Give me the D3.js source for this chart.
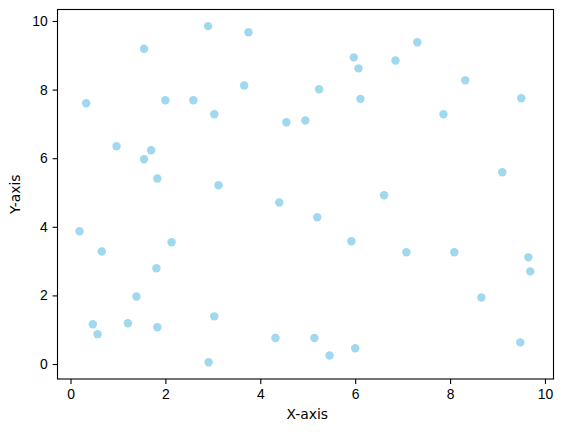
<!DOCTYPE html>
<html>
<head>
<meta charset="utf-8">
<script src="https://cdn.jsdelivr.net/npm/d3@7"></script>
<style>
  body { margin: 0; background: #fff; }
  svg { display: block; font-family: "DejaVu Sans", sans-serif; }
  .axis text { font-size: 13.9px; fill: #000; }
  .axis path, .axis line { stroke: #000; stroke-width: 1.1; }
</style>
</head>
<body>
<div id="chart"></div>
<script>
// 散佈點資料 (讀自圖片)
const xValues = [
  1.55, 0.33, 2.00, 2.59, 0.97, 1.70, 1.55, 1.83,
  2.90, 3.75, 5.97, 6.07, 3.66, 5.24, 6.11, 3.03, 4.55, 4.95, 3.12,
  7.31, 6.85, 8.32, 9.50, 7.86, 9.10, 6.61,
  0.19, 0.66, 2.13, 1.81, 1.39, 0.47, 0.57, 1.21, 1.83,
  4.40, 5.20, 5.92, 3.03, 2.91, 4.32, 5.14, 5.46, 6.00,
  7.08, 8.09, 9.65, 9.69, 8.66, 9.48
];
const yValues = [
  9.19, 7.60, 7.69, 7.69, 6.35, 6.23, 5.97, 5.41,
  9.85, 9.67, 8.94, 8.62, 8.12, 8.01, 7.73, 7.28, 7.05, 7.10, 5.21,
  9.38, 8.85, 8.27, 7.75, 7.28, 5.59, 4.92,
  3.87, 3.28, 3.55, 2.79, 1.97, 1.16, 0.87, 1.19, 1.07,
  4.71, 4.28, 3.58, 1.39, 0.05, 0.76, 0.76, 0.25, 0.46,
  3.26, 3.26, 3.11, 2.70, 1.94, 0.63
];
const xTicks = [0, 2, 4, 6, 8, 10];
const yTicks = [0, 2, 4, 6, 8, 10];

const points = xValues.map((x, i) => ({ x: x, y: yValues[i] }));

//畫布尺寸
const svg_width = 563;
const svg_height = 432;
const margin = { top: 9.5, right: 9.5, bottom: 53, left: 57.5 };
const width = svg_width - margin.left - margin.right;
const height = svg_height - margin.top - margin.bottom;

const svg = d3.select('#chart').append('svg')
  .attr('width', svg_width).attr('height', svg_height);
const g = svg.append('g')
  .attr('transform', `translate(${margin.left},${margin.top})`);

const X_scale = d3.scaleLinear([-0.274, 10.18], [0, width]);
const Y_scale = d3.scaleLinear([-0.437, 10.335], [height, 0]);

//點
g.append('g').attr('class', 'points')
  .selectAll('circle').data(points).join('circle')
  .attr('cx', d => X_scale(d.x))
  .attr('cy', d => Y_scale(d.y))
  .attr('r', 4.2)
  .style('fill', 'skyblue')
  .style('fill-opacity', 0.8);

//座標軸
const xAxis = d3.axisBottom(X_scale).tickValues(xTicks).tickSizeInner(4.9).tickSizeOuter(0).tickPadding(4.9);
const yAxis = d3.axisLeft(Y_scale).tickValues(yTicks).tickSizeInner(4.9).tickSizeOuter(0).tickPadding(4.9);

g.append('g').attr('class', 'x axis')
  .attr('transform', `translate(0,${height})`).call(xAxis)
  .call(s => s.select('.domain').remove());
g.append('g').attr('class', 'y axis').call(yAxis)
  .call(s => s.select('.domain').remove());

//外框
g.append('rect').attr('x', 0).attr('y', 0)
  .attr('width', width).attr('height', height)
  .style('fill', 'none').style('stroke', '#000').style('stroke-width', 1.1);

//標題
svg.append('text').attr('x', margin.left + X_scale(5.0) - 0.5).attr('y', 419)
  .attr('text-anchor', 'middle').style('font-size', '13.9px').text('X-axis');
svg.append('text')
  .attr('transform', `translate(20,${margin.top + height / 2}) rotate(-90)`)
  .attr('text-anchor', 'middle').style('font-size', '13.9px').text('Y-axis');
</script>
</body>
</html>
